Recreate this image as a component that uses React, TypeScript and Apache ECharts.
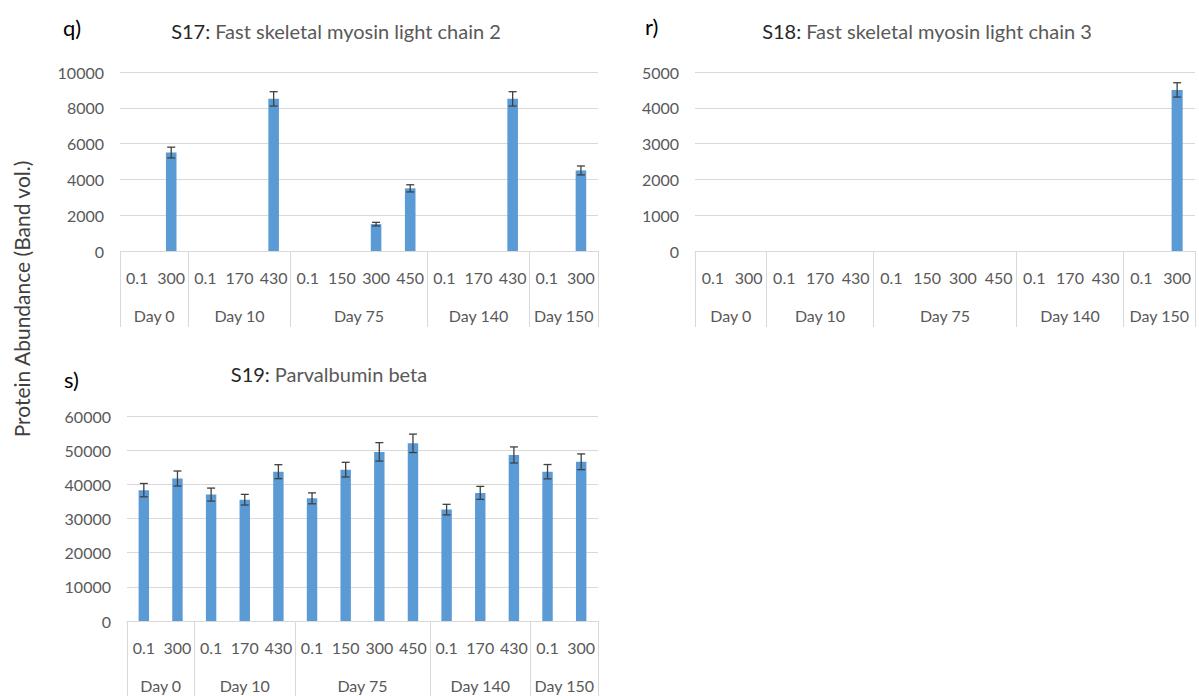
import React, { useEffect, useRef } from "react";
import * as echarts from "echarts";

const innerLabels = ["0.1", "300", "0.1", "170", "430", "0.1", "150", "300", "450", "0.1", "170", "430", "0.1", "300"];
const dayLabels = ["Day 0", "Day 10", "Day 75", "Day 140", "Day 150"];
const daySizes = [2, 3, 4, 3, 2];

const s17Values = [0, 5500, 0, 0, 8500, 0, 0, 1500, 3500, 0, 0, 8500, 0, 4500];
const s17Errors = [0, 300, 0, 0, 400, 0, 0, 100, 200, 0, 0, 400, 0, 250];

const s18Values = [0, 0, 0, 0, 0, 0, 0, 0, 0, 0, 0, 0, 0, 4500];
const s18Errors = [0, 0, 0, 0, 0, 0, 0, 0, 0, 0, 0, 0, 0, 200];

const s19Values = [38300, 41700, 37000, 35500, 43700, 35900, 44300, 49500, 52000, 32600, 37500, 48600, 43700, 46600];
const s19Errors = [1950, 2200, 1900, 1560, 2050, 1600, 2150, 2700, 2700, 1550, 1900, 2350, 2100, 2300];

const FONT = "Lato";
const GRAY = "#595959";
const LINE = "#D9D9D9";
const BAR = "#5B9BD5";

const groupStarts: number[] = [];
const groupCenters: number[] = [];
{
  let acc = 0;
  daySizes.forEach((s) => {
    groupStarts.push(acc);
    groupCenters.push(acc + s / 2);
    acc += s;
  });
}

function panel(idx: number, grid: any, values: number[], errors: number[], yMax: number, yInterval: number) {
  const catAxis = {
    type: "category",
    gridIndex: idx,
    position: "bottom",
    data: innerLabels,
    boundaryGap: true,
    axisLine: { show: true, lineStyle: { color: LINE, width: 1 } },
    axisTick: {
      show: true,
      length: 76,
      interval: (i: number) => groupStarts.includes(i),
      lineStyle: { color: LINE, width: 1 },
    },
    axisLabel: { interval: 0, margin: 18, color: GRAY, fontFamily: FONT, fontSize: 16 },
    splitLine: { show: false },
  };
  const dayAxis = {
    type: "value",
    gridIndex: idx,
    position: "bottom",
    min: 0,
    max: innerLabels.length,
    interval: 0.5,
    axisLine: { show: false },
    axisTick: { show: false },
    splitLine: { show: false },
    axisLabel: {
      margin: 56,
      color: GRAY,
      fontFamily: FONT,
      fontSize: 16,
      showMinLabel: true,
      showMaxLabel: true,
      formatter: (v: number) => {
        const k = groupCenters.findIndex((c) => Math.abs(c - v) < 1e-6);
        return k >= 0 ? dayLabels[k] : "";
      },
    },
  };
  const yAxis = {
    type: "value",
    gridIndex: idx,
    min: 0,
    max: yMax,
    interval: yInterval,
    axisLine: { show: false },
    axisTick: { show: false },
    splitLine: { show: true, lineStyle: { color: LINE, width: 1 } },
    axisLabel: {
      margin: 16,
      color: GRAY,
      fontFamily: FONT,
      fontSize: 16,
      formatter: (v: number) => String(v),
    },
  };
  const bar = {
    type: "bar",
    xAxisIndex: idx * 2,
    yAxisIndex: idx,
    data: values,
    barWidth: "31%",
    itemStyle: { color: BAR },
    silent: true,
  };
  const errData = values
    .map((v, i) => (v > 0 ? [i, v, errors[i]] : null))
    .filter((d) => d !== null);
  const err = {
    type: "custom",
    xAxisIndex: idx * 2,
    yAxisIndex: idx,
    data: errData,
    encode: { x: 0, y: 1 },
    z: 5,
    silent: true,
    renderItem: (params: any, api: any) => {
      const x = api.value(0);
      const v = api.value(1);
      const e = api.value(2);
      const top = api.coord([x, v + e]);
      const bot = api.coord([x, v - e]);
      const hw = 4;
      const style = { stroke: "#404040", lineWidth: 1.3 };
      return {
        type: "group",
        children: [
          { type: "line", shape: { x1: top[0], y1: top[1], x2: bot[0], y2: bot[1] }, style },
          { type: "line", shape: { x1: top[0] - hw, y1: top[1], x2: top[0] + hw, y2: top[1] }, style },
          { type: "line", shape: { x1: bot[0] - hw, y1: bot[1], x2: bot[0] + hw, y2: bot[1] }, style },
        ],
      };
    },
  };
  return { grid, xAxes: [catAxis, dayAxis], yAxis, series: [bar, err] };
}

export default function App() {
  const ref = useRef<HTMLDivElement>(null);
  useEffect(() => {
    if (!ref.current) return;
    const chart = echarts.init(ref.current, undefined, { renderer: "svg" });
    const panels = [
      panel(0, { left: 120, top: 72, width: 478, height: 179 }, s17Values, s17Errors, 10000, 2000),
      panel(1, { left: 695, top: 72, width: 500, height: 179 }, s18Values, s18Errors, 5000, 1000),
      panel(2, { left: 127, top: 416, width: 471, height: 205 }, s19Values, s19Errors, 60000, 10000),
    ];
    const titleRich = {
      a: { color: "#262626", fontFamily: FONT, fontSize: 20, fontWeight: "normal" },
      b: { color: GRAY, fontFamily: FONT, fontSize: 20, fontWeight: "normal" },
    };
    const mkTitle = (code: string, name: string, left: number, top: number) => ({
      text: `{a|${code}:} {b|${name}}`,
      left,
      top,
      textAlign: "center",
      textStyle: { rich: titleRich, fontWeight: "normal" },
    });
    const letter = (t: string, x: number, y: number) => ({
      type: "text",
      x,
      y,
      style: { text: t, fill: "#000", font: `22px ${FONT}`, textAlign: "left", textVerticalAlign: "middle" },
    });
    chart.setOption({
      animation: false,
      backgroundColor: "#ffffff",
      title: [
        mkTitle("S17", "Fast skeletal myosin light chain 2", 331, 16),
        mkTitle("S18", "Fast skeletal myosin light chain 3", 922, 16),
        mkTitle("S19", "Parvalbumin beta", 324, 359),
      ],
      grid: panels.map((p) => p.grid),
      xAxis: panels.flatMap((p) => p.xAxes),
      yAxis: panels.map((p) => p.yAxis),
      series: panels.flatMap((p) => p.series),
      graphic: [
        letter("q)", 63, 27),
        letter("r)", 645, 26),
        letter("s)", 64, 379),
        {
          type: "text",
          x: 21,
          y: 299,
          rotation: Math.PI / 2,
          style: {
            text: "Protein Abundance (Band vol.)",
            fill: "#404040",
            font: `21px ${FONT}`,
            textAlign: "center",
            textVerticalAlign: "middle",
          },
        },
      ],
    });
    return () => chart.dispose();
  }, []);
  return (
    <div
      ref={ref}
      style={{ position: "fixed", left: 0, top: 0, width: 1199, height: 696, background: "#fff" }}
    />
  );
}
